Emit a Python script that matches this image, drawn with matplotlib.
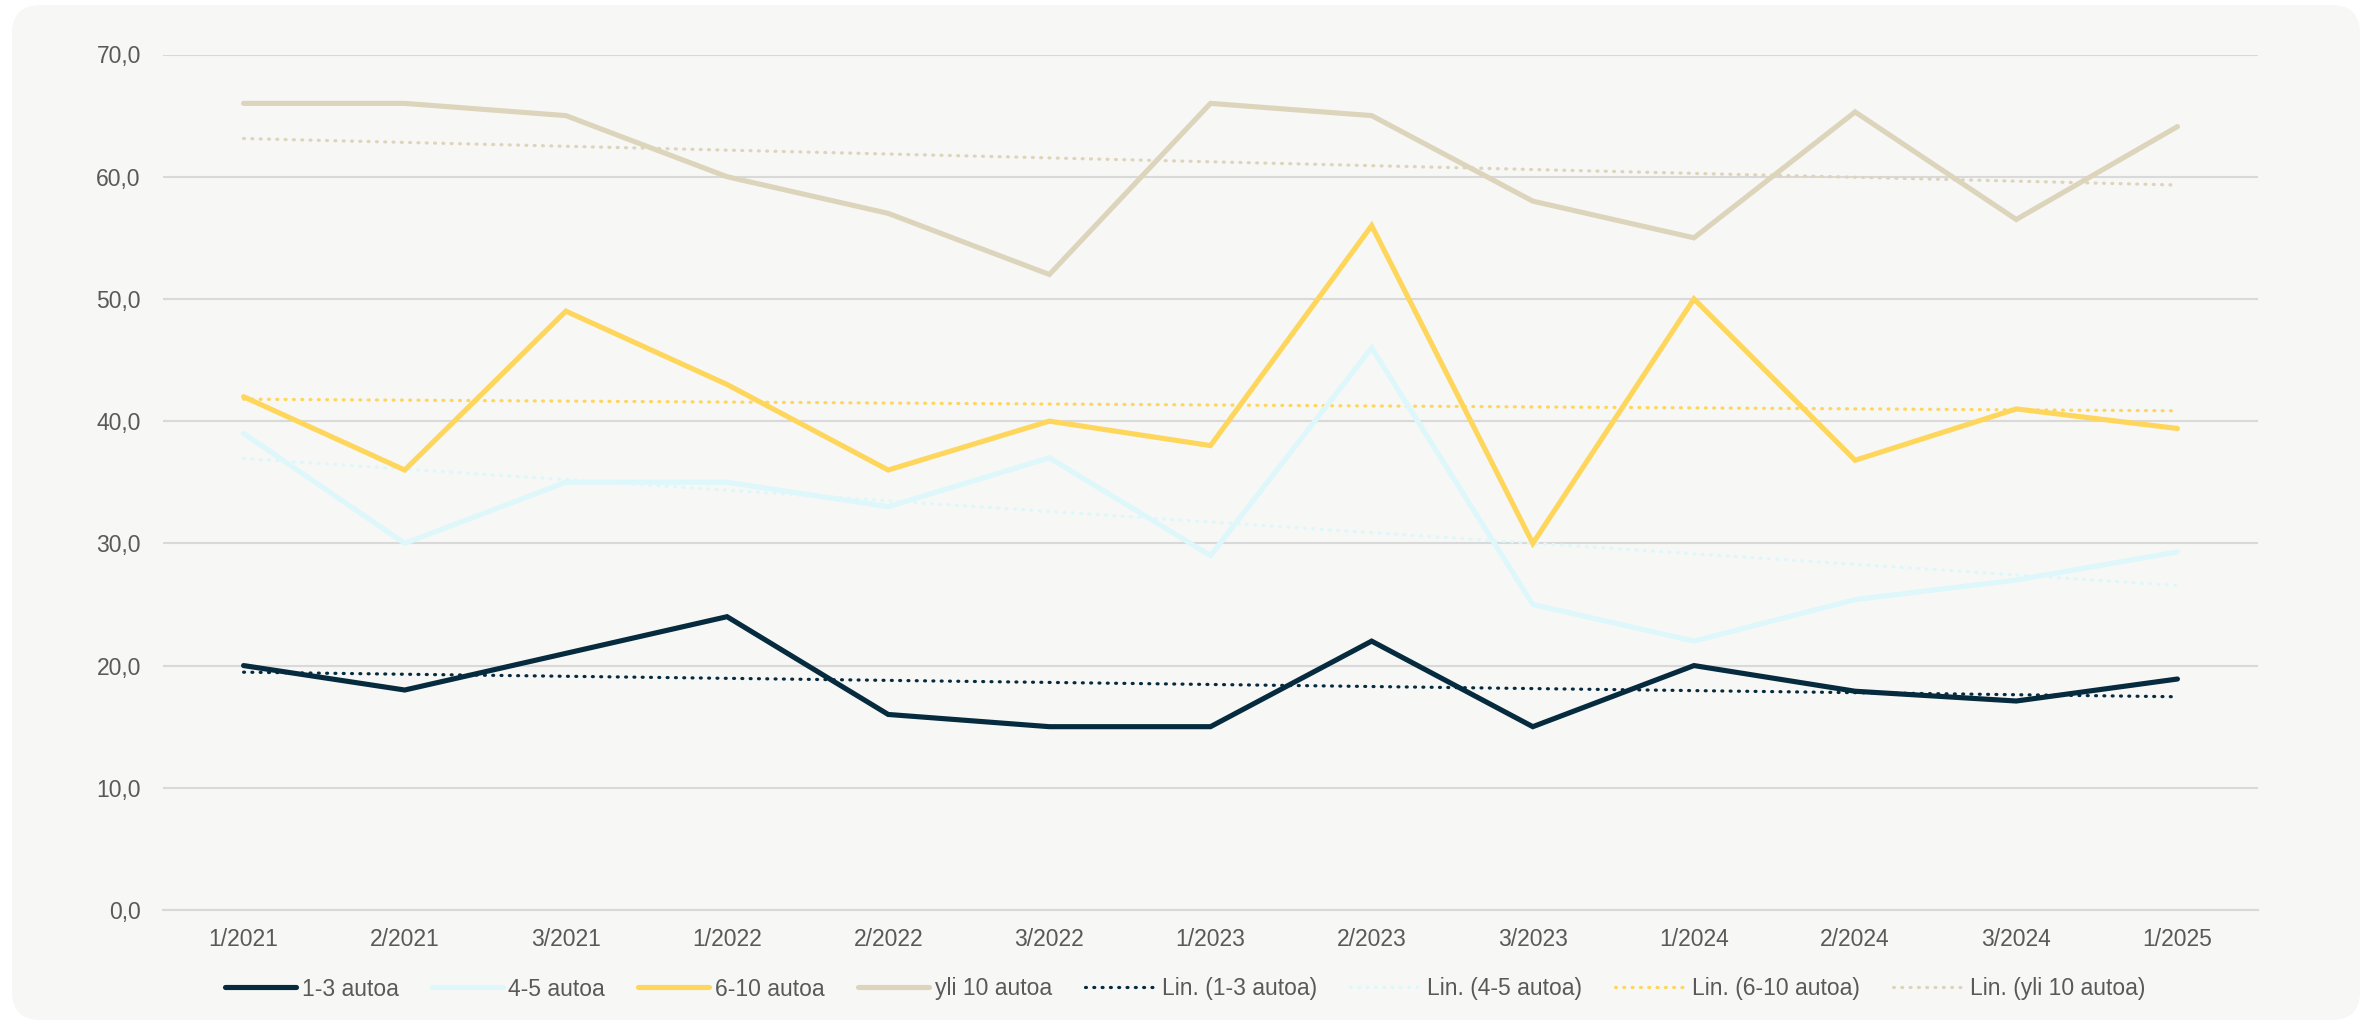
import numpy as np
import matplotlib
matplotlib.use("Agg")
import matplotlib.pyplot as plt
from matplotlib.patches import FancyBboxPatch

categories = ["1/2021", "2/2021", "3/2021", "1/2022", "2/2022", "3/2022", "1/2023",
              "2/2023", "3/2023", "1/2024", "2/2024", "3/2024", "1/2025"]
s_1_3 = [20, 18, 21, 24, 16, 15, 15, 22, 15, 20, 17.9, 17.1, 18.9]
s_4_5 = [39, 30, 35, 35, 33, 37, 29, 46, 25, 22, 25.4, 27.0, 29.3]
s_6_10 = [42, 36, 49, 43, 36, 40, 38, 56, 30, 50, 36.8, 41.0, 39.4]
s_yli10 = [66, 66, 65, 60, 57, 52, 66, 65, 58, 55, 65.3, 56.5, 64.1]
series_names = ["1-3 autoa", "4-5 autoa", "6-10 autoa", "yli 10 autoa"]
colors = ["#062B3E", "#DDF7FB", "#FFD65C", "#DDD4BC"]
yticks = [0, 10, 20, 30, 40, 50, 60, 70]

plt.rcParams['font.family'] = ['Liberation Sans', 'DejaVu Sans']

fig = plt.figure(figsize=(23.67, 10.26), dpi=100)
fig.patch.set_facecolor("white")
panel = FancyBboxPatch((12 / 2367, 6 / 1026), (2360 - 12) / 2367, (1021 - 6) / 1026,
                       boxstyle="round,pad=0,rounding_size=0.012",
                       transform=fig.transFigure, facecolor="#F7F7F5",
                       edgecolor="none", zorder=-10, mutation_aspect=2367 / 1026)
fig.patches.append(panel)

ax = fig.add_axes([163 / 2367, 1 - 910 / 1026, (2258 - 163) / 2367, (910 - 54.5) / 1026])
ax.set_facecolor("none")
ax.set_zorder(5)

x = np.arange(len(categories))
data = [s_1_3, s_4_5, s_6_10, s_yli10]
handles = []
for name, vals, c in zip(series_names, data, colors):
    h, = ax.plot(x, vals, color=c, lw=3.7, solid_capstyle="round",
                 solid_joinstyle="miter", label=name, zorder=3)
    handles.append(h)
for name, vals, c in zip(series_names, data, colors):
    coef = np.polyfit(x, vals, 1)
    t = np.polyval(coef, x)
    h, = ax.plot(x, t, color=c, lw=2.3, linestyle=(0, (0.3, 2.3)),
                 dash_capstyle="round", label=f"Lin. ({name})", zorder=2)
    handles.append(h)

ax.set_xlim(-0.5, len(categories) - 0.5)
ax.set_ylim(0, 70)
ax.set_yticks(yticks)
ax.set_yticklabels([f"{v:.1f}".replace(".", ",") for v in yticks])
ax.set_xticks(x)
ax.set_xticklabels(categories)
ax.grid(axis="y", color="#D9D9D9", lw=1.5, zorder=1)
ax.set_axisbelow(True)
for s in ["top", "right", "left"]:
    ax.spines[s].set_visible(False)
ax.spines["bottom"].set_color("#D9D9D9")
ax.spines["bottom"].set_linewidth(1.5)
ax.tick_params(axis="both", length=0, labelsize=16.5, labelcolor="#595959")
ax.tick_params(axis="y", pad=16)
ax.tick_params(axis="x", pad=13)

leg = fig.legend(handles=handles, loc="center", bbox_to_anchor=(1185 / 2367, 1 - 989 / 1026),
                 ncol=8, frameon=False, fontsize=16.5, handlelength=3.1,
                 handletextpad=0.25, columnspacing=1.45, labelcolor="#595959")

fig.savefig("out.png", dpi=100, facecolor="white")
